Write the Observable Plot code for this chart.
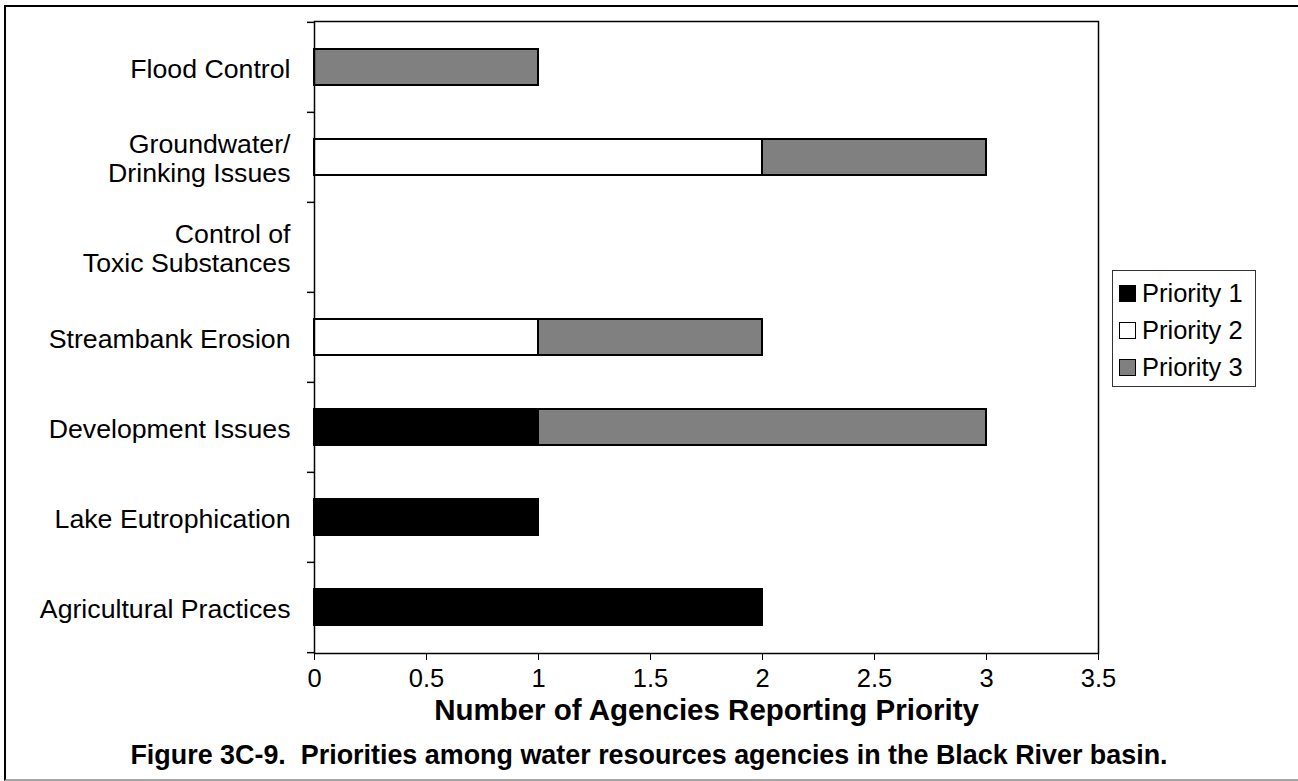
<!DOCTYPE html>
<html>
<head>
<meta charset="utf-8">
<script src="https://cdn.jsdelivr.net/npm/d3@7"></script>
<script src="https://cdn.jsdelivr.net/npm/@observablehq/plot@0.6"></script>
<style>
  html, body { margin: 0; padding: 0; background: #fff; overflow: hidden; }
  body { font-family: "Liberation Sans", Arial, sans-serif; }
  #wrap { position: relative; width: 1298px; height: 781px; }
  #border { position: absolute; left: 4px; top: 5px; width: 1310px; height: 772px;
            border-top: 2px solid #000; border-left: 2px solid #000; border-bottom: 2px solid #a6a6a6; }
  #chart { position: absolute; left: 0; top: 0; }
  #legend { position: absolute; left: 1112px; top: 270px; width: 142px; height: 115px;
            border: 1px solid #333; background: #fff; }
  .row { position: absolute; left: 6px; height: 26px; display: flex; align-items: center;
         font-size: 25.5px; color: #000; white-space: nowrap; }
  .sw { width: 17px; height: 17px; border: 1px solid #000; margin-right: 6px; box-sizing: border-box; }
  #caption { position: absolute; left: 0; width: 1298px; top: 740px; text-align: center;
             font-weight: bold; font-size: 26.9px; white-space: pre; line-height: 30px; }
</style>
</head>
<body>
<div id="wrap">
  <div id="border"></div>
  <div id="chart"></div>
  <div id="legend"></div>
  <div id="caption"></div>
</div>
<script>
// Categories, top to bottom
const categories = [
  "Flood Control",
  "Groundwater/\nDrinking Issues",
  "Control of\nToxic Substances",
  "Streambank Erosion",
  "Development Issues",
  "Lake Eutrophication",
  "Agricultural Practices"
];
const seriesNames = ["Priority 1", "Priority 2", "Priority 3"];
const seriesColors = ["#000000", "#ffffff", "#808080"];
const priority1 = [0, 0, 0, 0, 1, 1, 2];
const priority2 = [0, 2, 0, 1, 0, 0, 0];
const priority3 = [1, 1, 0, 1, 2, 0, 0];
const xTicks = [0, 0.5, 1, 1.5, 2, 2.5, 3, 3.5];
const xLabel = "Number of Agencies Reporting Priority";
const captionText = "Figure 3C-9.  Priorities among water resources agencies in the Black River basin.";

const seriesValues = [priority1, priority2, priority3];
const data = [];
seriesNames.forEach((s, si) => {
  categories.forEach((c, ci) => {
    const v = seriesValues[si][ci];
    if (v > 0) data.push({category: c, priority: s, value: v});
  });
});

const W = 1298, H = 781;
const mTop = 21, mBottom = 128, mLeft = 314, mRight = 200;
const step = (H - mTop - mBottom) / categories.length;
const pxPerUnit = (W - mLeft - mRight) / 3.5;

const plot = Plot.plot({
  width: W,
  height: H,
  marginTop: mTop,
  marginBottom: mBottom,
  marginLeft: mLeft,
  marginRight: mRight,
  style: {fontFamily: "'Liberation Sans', Arial, sans-serif", background: "transparent", color: "#000"},
  x: {domain: [0, 3.5]},
  y: {domain: categories, paddingInner: 0.6, paddingOuter: 0.3},
  color: {domain: seriesNames, range: seriesColors},
  marks: [
    Plot.barX(data, Plot.stackX({
      y: "category", x: "value", fill: "priority", z: "priority",
      order: seriesNames,
      stroke: "#000", strokeWidth: 2
    })),
    Plot.frame({stroke: "#000", strokeWidth: 1.5}),
    Plot.axisX({ticks: xTicks, tickSize: 7, tickPadding: 8, fontSize: 25.5, label: null,
                tickFormat: d => String(d), stroke: "#000"}),
    Plot.axisY({tickSize: 0, tickPadding: 24, fontSize: 26.7, label: null, lineHeight: 1.08, dy: 1}),
    // band-boundary tick marks on the y axis
    Plot.ruleY(categories, {y: d => d, x1: -7 / pxPerUnit, x2: 0, dy: -step / 2, stroke: "#000", strokeWidth: 1.5, clip: false}),
    Plot.ruleY(categories.slice(-1), {y: d => d, x1: -7 / pxPerUnit, x2: 0, dy: step / 2, stroke: "#000", strokeWidth: 1.5, clip: false}),
    Plot.text([xLabel], {frameAnchor: "bottom", dy: 57, text: d => d, fontSize: 29.5, fontWeight: "bold", lineAnchor: "middle", fill: "#000"})
  ]
});
document.getElementById("chart").appendChild(plot);

// legend
const legend = document.getElementById("legend");
seriesNames.forEach((s, i) => {
  const row = document.createElement("div");
  row.className = "row";
  row.style.top = (9 + i * 37) + "px";
  const sw = document.createElement("div");
  sw.className = "sw";
  sw.style.background = seriesColors[i];
  row.appendChild(sw);
  const t = document.createElement("span");
  t.textContent = s;
  row.appendChild(t);
  legend.appendChild(row);
});
document.getElementById("caption").textContent = captionText;
</script>
</body>
</html>
